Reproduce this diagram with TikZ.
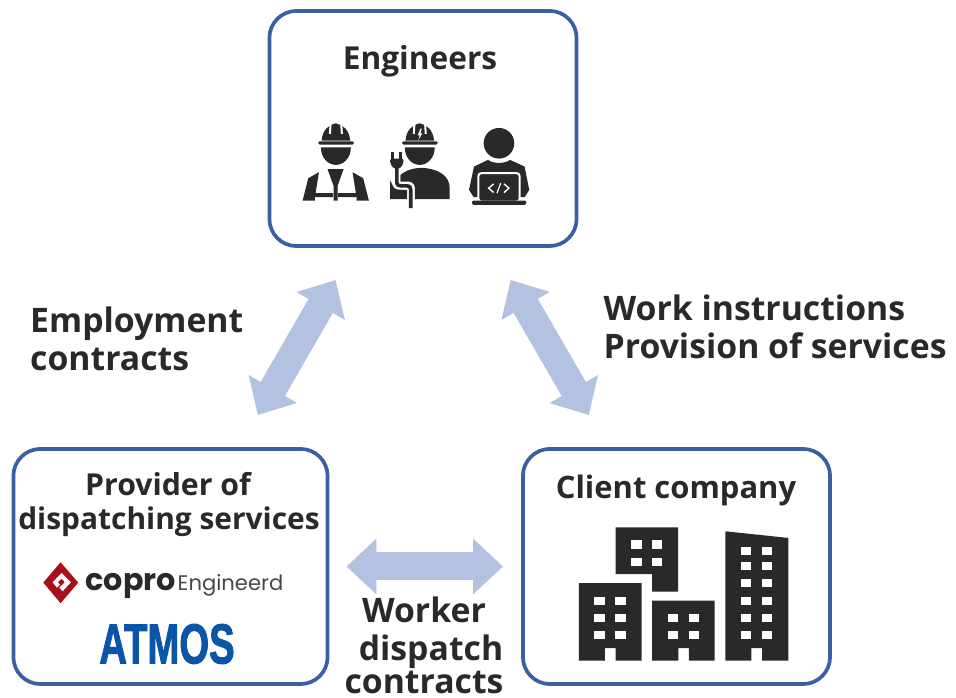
\documentclass[tikz,border=0pt]{standalone}
\usepackage{fontspec}
\setmainfont{Open Sans}
\newfontfamily\logofont{Poppins}
\newfontfamily\atmosfont{Liberation Sans}[FakeBold=2]
\usetikzlibrary{arrows.meta}
\definecolor{boxblue}{HTML}{3A5FA3}
\definecolor{arrowblue}{HTML}{B4C2E1}
\definecolor{inkgray}{HTML}{292929}
\definecolor{logored}{HTML}{A90F17}
\definecolor{atmosblue}{HTML}{0B55A8}
\tikzset{
    box/.style={draw=boxblue, line width=.037cm, rounded corners=.27cm, fill=white, inner sep=0pt},
    bigtxt/.style={text=inkgray, font=\bfseries\fontsize{9.6}{11}\selectfont, inner sep=0pt, anchor=base west},
    boxtxt/.style={text=inkgray, font=\bfseries\fontsize{8.6}{10}\selectfont, inner sep=0pt, anchor=base},
    blockarrow/.style={arrowblue, line width=.28cm,
        {Triangle[length=.3cm,width=.54cm]}-{Triangle[length=.3cm,width=.54cm]}},
}
\begin{document}
\begin{tikzpicture}[x=.01cm, y=-.01cm]
\useasboundingbox (0,0) rectangle (956,698);
\node[box, minimum width=3.07cm, minimum height=2.35cm] (engineers) at (423,128.5) {};
\node[box, minimum width=3.14cm, minimum height=2.35cm] (provider) at (170.5,566.5) {};
\node[box, minimum width=3.07cm, minimum height=2.35cm] (client) at (676.5,566.5) {};

\draw[blockarrow, shorten <=.37cm, shorten >=.37cm] (engineers) -- (provider);
\draw[blockarrow, shorten <=.37cm, shorten >=.37cm] (engineers) -- (client);
\draw[blockarrow, shorten <=.17cm, shorten >=.18cm] (provider) -- (client);

\node[boxtxt, font=\bfseries\fontsize{9}{10}\selectfont] (engineerstxt) at (420,70) {Engineers};
\node[boxtxt] (providertxta) at (168,496) {Provider of};
\node[boxtxt, font=\bfseries\fontsize{8.5}{10}\selectfont] (providertxtb) at (169,530) {dispatching services};
\node[boxtxt, font=\bfseries\fontsize{8.8}{10}\selectfont] (clienttxt) at (676,499) {Client company};
\node[bigtxt] (employtxta) at (29.5,333) {Employment};
\node[bigtxt] (employtxtb) at (29.5,371) {contracts};
\node[bigtxt] (worktxta) at (603,321) {Work instructions};
\node[bigtxt] (worktxtb) at (603,359) {Provision of services};
\node[bigtxt, anchor=base] (workertxta) at (424,623) {Worker};
\node[bigtxt, anchor=base] (workertxtb) at (431,661) {dispatch};
\node[bigtxt, anchor=base] (workertxtc) at (424,694) {contracts};

% engineers
\begin{scope}[shift={(280,110)}, x=.00333cm, y=-.00333cm]
\foreach \dx in {0,252}
{
    \fill[inkgray, shift={(\dx,0)}] (125,92) .. controls (128,60) and (145,45) .. (168,40)
        .. controls (190,45) and (208,60) .. (211,92) -- cycle;
    \fill[inkgray, shift={(\dx,0)}, rounded corners=.4pt] (115,94) rectangle (222,104);
    \fill[inkgray, shift={(\dx,0)}] (123,112) .. controls (123,145) and (145,165) .. (168,165)
        .. controls (190,165) and (213,145) .. (213,112) -- cycle;
}
\draw[white, line width=.02cm] (152,42)--(150,72);
\draw[white, line width=.02cm] (184,42)--(186,72);
\draw[white, line width=.02cm] (404,42)--(402,72);
\draw[white, line width=.02cm] (436,42)--(438,72);
\fill[white] (422,56)--(414,76)--(420,76)--(416,90)--(428,70)--(422,70)--(426,56)--cycle;
% vest
\fill[inkgray] (68,272)--(85,205)--(117,187)--(107,250)--(160,250)--(160,262)--(105,262)--(105,272)--cycle;
\fill[inkgray] (267,272)--(250,205)--(218,187)--(228,250)--(175,250)--(175,262)--(230,262)--(230,272)--cycle;
\fill[inkgray] (143,178)--(191,178)--(173,228)--(173,272)--(161,272)--(161,228)--cycle;
% cable worker
\fill[inkgray] (362,195) .. controls (385,175) and (420,172) .. (440,175)
    .. controls (480,180) and (510,200) .. (510,235) -- (510,268) -- (405,268) -- (405,232)
    .. controls (405,222) and (395,215) .. (385,215) -- (362,215) -- cycle;
\fill[inkgray] (331,212)--(340,230) .. controls (345,240) and (355,240) .. (382,240)--(382,268)--(331,268)--cycle;
\draw[white, line width=.065cm] (351,175)--(351,215) .. controls (351,225) and (355,228) .. (365,228)
    -- (380,228) .. controls (390,228) and (393,232) .. (393,240) -- (393,295);
\draw[inkgray, line width=.036cm] (351,170)--(351,215) .. controls (351,225) and (355,228) .. (365,228)
    -- (380,228) .. controls (390,228) and (393,232) .. (393,240) -- (393,295);
\fill[inkgray, rounded corners=.6pt] (331,146)--(371,146)--(371,162)--(358,178)--(344,178)--(331,162)--cycle;
\fill[inkgray] (335,127) rectangle (344,148);
\fill[inkgray] (359,127) rectangle (368,148);
% laptop person
\fill[inkgray] (658,100) circle[radius=.153cm];
\fill[inkgray] (568,240)--(583,170)--(625,150) .. controls (640,162) and (676,162) .. (691,150)
    --(735,170)--(749,240)--(735,262)--(582,262)--cycle;
\fill[inkgray, draw=white, line width=.02cm, rounded corners=.8pt] (596,275)--(596,190)--(720,190)--(720,275)--cycle;
\fill[inkgray, rounded corners=.4pt] (577,272) rectangle (740,285);
\draw[white, line width=.014cm] (642,222)--(627,235)--(642,248);
\draw[white, line width=.014cm] (673,222)--(688,235)--(673,248);
\draw[white, line width=.012cm] (663,220)--(652,250);
\end{scope}

% buildings
\begin{scope}[shift={(560,515)}, x=.00333cm, y=-.00333cm]
\fill[inkgray] (167,37)--(355,37)--(355,230)--(277,230)--(277,178)--(167,178)--cycle;
\fill[inkgray] (57,205)--(245,205)--(245,438)--(167,438)--(167,400)--(135,400)--(135,438)--(57,438)--cycle;
\fill[inkgray] (277,257)--(465,257)--(465,438)--(387,438)--(387,400)--(356,400)--(356,438)--(277,438)--cycle;
\fill[inkgray] (497,49)--(686,69)--(686,438)--(607,438)--(607,400)--(575,400)--(575,438)--(497,438)--cycle;
\foreach \y in {76,128}
{
    \fill[white] (214,\y) rectangle +(31,26);
    \fill[white] (277,\y) rectangle +(31,26);
}
\foreach \y in {245,297,349}
{
    \fill[white] (103,\y) rectangle +(32,25);
    \fill[white] (166,\y) rectangle +(32,25);
}
\foreach \y in {297,349}
{
    \fill[white] (324,\y) rectangle +(31,25);
    \fill[white] (387,\y) rectangle +(31,25);
}
\foreach \y in {95,140,192,245,297,349}
{
    \fill[white] (544,\y) rectangle +(31,25);
    \fill[white] (607,\y) rectangle +(31,25);
}
\end{scope}

% logos
\begin{scope}[shift={(20,550)}, x=.00333cm, y=-.00333cm]
\fill[logored] (122,37)--(175,98)--(122,160)--(70,98)--cycle;
\fill[white] (98,97)--(125,69)--(153,97)--(128,124)--(118,113)--(135,97)--(125,86)--(114,97)--(120,104)--(111,113)--cycle;
\end{scope}
\node[text=inkgray, font=\logofont\bfseries\fontsize{8.6}{10}\selectfont, inner sep=0pt, anchor=base west] (coprotxt) at (85,591) {copro};
\node[text=inkgray!85, font=\logofont\fontsize{6}{8}\selectfont, inner sep=0pt, anchor=base west] (engineerdtxt) at (177,591) {Engineerd};
\node[text=atmosblue, font=\atmosfont\bfseries\fontsize{16}{18}\selectfont, inner sep=0pt, xscale=.68] (atmostxt) at (167,644) {ATMOS};
\end{tikzpicture}
\end{document}
